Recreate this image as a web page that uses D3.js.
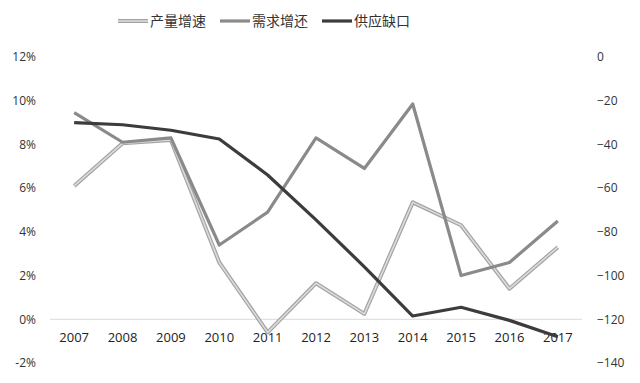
<!DOCTYPE html>
<html><head><meta charset="utf-8">
<script src="https://cdn.jsdelivr.net/npm/d3@7"></script>
<style>body{margin:0;background:#fff}svg{display:block}text{font-family:"Open Sans","Noto Sans CJK SC",sans-serif}</style>
</head><body><svg id="c" width="640" height="383"></svg>
<script>
const years = ["2007","2008","2009","2010","2011","2012","2013","2014","2015","2016","2017"];
const outputGrowth = [6.1, 8.05, 8.2, 2.6, -0.6, 1.65, 0.25, 5.35, 4.3, 1.4, 3.3];
const demandGrowth = [9.45, 8.1, 8.3, 3.4, 4.9, 8.3, 6.9, 9.85, 2.0, 2.6, 4.5];
const supplyGap = [-30, -31, -33.5, -37.5, -54, -74.5, -96, -118.5, -114.5, -120.5, -128];
const leftTicks = [12, 10, 8, 6, 4, 2, 0, -2];
const rightTicks = [0, -20, -40, -60, -80, -100, -120, -140];
const seriesNames = ["产量增速", "需求增还", "供应缺口"];

const svg = d3.select("#c");
const x = d3.scaleBand().domain(years).range([50, 582]);
const yL = d3.scaleLinear().domain([-2, 12]).range([363, 57]);
const yR = d3.scaleLinear().domain([-140, 0]).range([363, 57]);
const cx = d => x(d) + x.bandwidth() / 2;

// zero baseline
svg.append("line").attr("x1", 50).attr("x2", 582).attr("y1", yL(0)).attr("y2", yL(0))
  .attr("stroke", "#d9d9d9").attr("stroke-width", 1);

// left axis labels
const la = svg.append("g").attr("transform", "translate(36,0)")
  .call(d3.axisLeft(yL).tickValues(leftTicks).tickSize(0).tickPadding(0).tickFormat(d => d + "%"));
la.select(".domain").remove();
la.selectAll("text").attr("font-size", 12).attr("fill", "#333");

// right axis labels
const ra = svg.append("g").attr("transform", "translate(597,0)")
  .call(d3.axisRight(yR).tickValues(rightTicks).tickSize(0).tickPadding(0));
ra.select(".domain").remove();
ra.selectAll("text").attr("font-size", 12).attr("fill", "#333");

// x axis labels
const xa = svg.append("g").attr("transform", "translate(0,333)")
  .call(d3.axisBottom(x).tickSize(0).tickPadding(0));
xa.select(".domain").remove();
xa.selectAll("text").attr("font-size", 13).attr("fill", "#222").attr("dy", "0.71em");

const lineL = d3.line().x((d, i) => cx(years[i])).y(d => yL(d));
const lineR = d3.line().x((d, i) => cx(years[i])).y(d => yR(d));

// output growth: light double line
svg.append("path").attr("d", lineL(outputGrowth)).attr("fill", "none")
  .attr("stroke", "#a3a3a3").attr("stroke-width", 4).attr("stroke-linejoin", "round");
svg.append("path").attr("d", lineL(outputGrowth)).attr("fill", "none")
  .attr("stroke", "#dcdcdc").attr("stroke-width", 1.6).attr("stroke-linejoin", "round");
// demand growth
svg.append("path").attr("d", lineL(demandGrowth)).attr("fill", "none")
  .attr("stroke", "#8a8a8a").attr("stroke-width", 3.2).attr("stroke-linejoin", "round");
// supply gap (right axis)
svg.append("path").attr("d", lineR(supplyGap)).attr("fill", "none")
  .attr("stroke", "#3c3c3c").attr("stroke-width", 3.2).attr("stroke-linejoin", "round");

// legend
const legX = [118, 220, 322];
const lg = svg.append("g");
seriesNames.forEach((n, i) => {
  const g = lg.append("g").attr("transform", `translate(${legX[i]},21)`);
  if (i === 0) {
    g.append("line").attr("x1", 0).attr("x2", 30).attr("stroke", "#a3a3a3").attr("stroke-width", 4);
    g.append("line").attr("x1", 0).attr("x2", 30).attr("stroke", "#dcdcdc").attr("stroke-width", 1.6);
  } else {
    g.append("line").attr("x1", 0).attr("x2", 30)
      .attr("stroke", i === 1 ? "#8a8a8a" : "#3c3c3c").attr("stroke-width", 3.2);
  }
  g.append("text").attr("x", 32).attr("dy", "0.36em").attr("font-size", 14).attr("fill", "#333").text(n);
});
</script></body></html>
